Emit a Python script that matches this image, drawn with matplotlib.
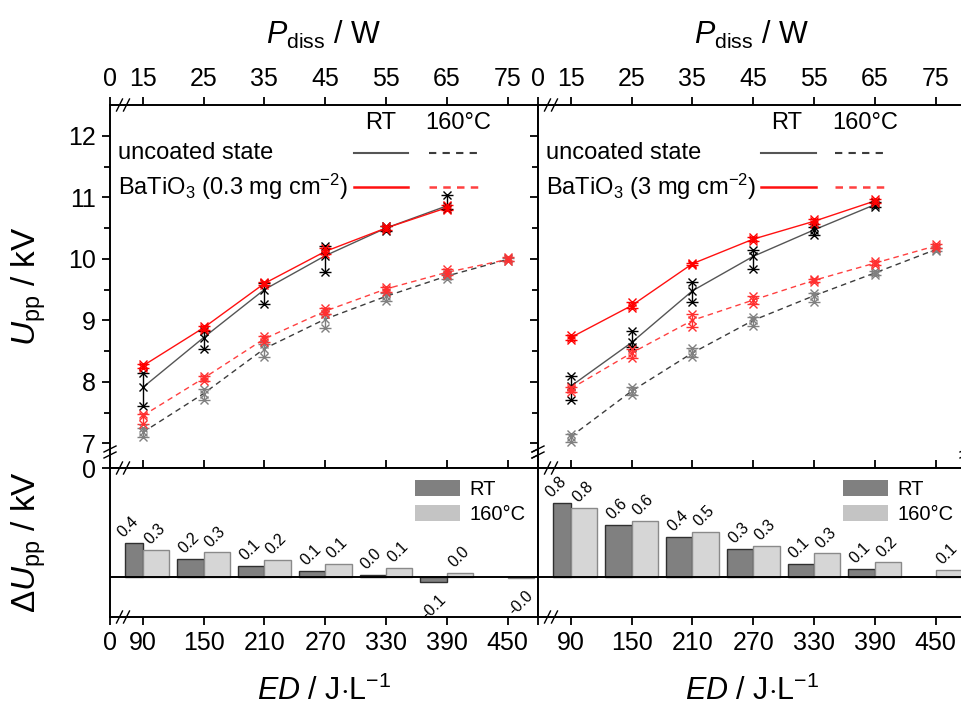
import numpy as np
import matplotlib
matplotlib.use("Agg")
import matplotlib.pyplot as plt
from matplotlib.patches import Patch

plt.rcParams['font.family'] = 'Liberation Sans'
plt.rcParams['mathtext.fontset'] = 'custom'
plt.rcParams['mathtext.rm'] = 'Liberation Sans'
plt.rcParams['mathtext.it'] = 'Liberation Sans:italic'

# x values
P_rt = [15, 25, 35, 45, 55, 65]
P_hot = [15, 25, 35, 45, 55, 65, 75]
ED = [90, 150, 210, 270, 330, 390, 450]

# left: BaTiO3 0.3 mg cm-2  (mean, min, max of the runs)
unc_rt_L = [7.91, 8.72, 9.50, 10.05, 10.50, 10.86]
unc_rt_L_lo = [7.60, 8.54, 9.27, 9.78, 10.46, 10.81]
unc_rt_L_hi = [8.14, 8.83, 9.60, 10.21, 10.53, 11.03]
coat_rt_L = [8.26, 8.88, 9.60, 10.12, 10.50, 10.83]
coat_rt_L_lo = [8.23, 8.85, 9.57, 10.08, 10.47, 10.80]
coat_rt_L_hi = [8.29, 8.91, 9.63, 10.17, 10.54, 10.87]
unc_hot_L = [7.18, 7.81, 8.54, 9.02, 9.39, 9.72, 9.99]
unc_hot_L_lo = [7.10, 7.70, 8.40, 8.88, 9.32, 9.68, 9.97]
unc_hot_L_hi = [7.25, 7.88, 8.62, 9.10, 9.45, 9.76, 10.02]
coat_hot_L = [7.45, 8.06, 8.70, 9.15, 9.51, 9.78, 9.99]
coat_hot_L_lo = [7.32, 8.02, 8.64, 9.10, 9.46, 9.74, 9.97]
coat_hot_L_hi = [7.48, 8.10, 8.74, 9.20, 9.54, 9.83, 10.03]
dU_rt_L = [0.38, 0.20, 0.12, 0.07, 0.02, -0.06, np.nan]
dU_hot_L = [0.30, 0.27, 0.19, 0.14, 0.10, 0.04, -0.01]

# right: BaTiO3 3 mg cm-2
unc_rt_R = [7.93, 8.64, 9.48, 10.04, 10.47, 10.88]
unc_rt_R_lo = [7.71, 8.56, 9.29, 9.84, 10.38, 10.85]
unc_rt_R_hi = [8.10, 8.83, 9.63, 10.15, 10.51, 10.92]
coat_rt_R = [8.72, 9.24, 9.92, 10.32, 10.61, 10.94]
coat_rt_R_lo = [8.68, 9.20, 9.90, 10.29, 10.57, 10.91]
coat_rt_R_hi = [8.76, 9.29, 9.94, 10.35, 10.65, 10.98]
unc_hot_R = [7.11, 7.85, 8.47, 9.00, 9.40, 9.77, 10.15]
unc_hot_R_lo = [7.02, 7.78, 8.40, 8.90, 9.30, 9.74, 10.12]
unc_hot_R_hi = [7.16, 7.92, 8.55, 9.05, 9.45, 9.80, 10.18]
coat_hot_R = [7.89, 8.47, 9.00, 9.33, 9.65, 9.93, 10.21]
coat_hot_R_lo = [7.84, 8.38, 8.89, 9.27, 9.62, 9.90, 10.18]
coat_hot_R_hi = [7.92, 8.54, 9.10, 9.40, 9.68, 9.96, 10.24]
dU_rt_R = [0.82, 0.57, 0.44, 0.31, 0.14, 0.09, np.nan]
dU_hot_R = [0.76, 0.62, 0.50, 0.34, 0.26, 0.16, 0.08]

W, H = 961, 711
fig = plt.figure(figsize=(W / 100, H / 100), dpi=100)


def box(x0, y0, x1, y1):
    return [x0 / W, 1 - y1 / H, (x1 - x0) / W, (y1 - y0) / H]


def slashes(ax, x, y, wpx, hpx, vertical=False):
    # two short "//" marks drawn across a spine, sizes in pixels
    for k in (-1, 1):
        if vertical:
            xs = [x - 6 / wpx, x + 6 / wpx]
            ys = [y + (k * 3 - 3) / hpx, y + (k * 3 + 3) / hpx]
        else:
            xs = [x + (k * 3.5 - 3) / wpx, x + (k * 3.5 + 3) / wpx]
            ys = [y - 6 / hpx, y + 6 / hpx]
        ax.plot(xs, ys, color='k', lw=1, transform=ax.transAxes, clip_on=False, zorder=10)


def series(ax, x, m, lo, hi, lcol, mcol, ls):
    m, lo, hi = np.array(m), np.array(lo), np.array(hi)
    ax.plot(x, m, color=lcol, lw=1, ls=ls, zorder=2)
    ax.errorbar(x, m, yerr=[m - lo, hi - m], fmt='none', ecolor=mcol, elinewidth=1,
                capsize=4, capthick=1, zorder=3)
    for arr in (lo, m, hi):
        ax.plot(x, arr, ls='none', marker='x', ms=6, mew=1, color=mcol, zorder=4)


def panel(x0, data, label, dU_rt, dU_hot, first, key_pos):
    up = fig.add_axes(box(x0, 105, x0 + 428, 468))
    low = fig.add_axes(box(x0, 468, x0 + 428, 617))
    (ur, ur_lo, ur_hi, cr, cr_lo, cr_hi, uh, uh_lo, uh_hi, ch, ch_lo, ch_hi) = data

    dash = (0, (4, 3))
    series(up, P_hot, uh, uh_lo, uh_hi, '#3c3c3c', '#808080', dash)
    series(up, P_rt, ur, ur_lo, ur_hi, '#555555', 'black', '-')
    series(up, P_hot, ch, ch_lo, ch_hi, '#ff4040', '#ff3030', dash)
    series(up, P_rt, cr, cr_lo, cr_hi, '#ff1010', '#ff0000', '-')

    xlo, xhi = 9.6, 80
    up.set_xlim(xlo, xhi)
    up.set_ylim(6.6, 12.5)
    up.xaxis.tick_top()
    up.set_xticks([xlo] + P_hot)
    up.set_xticklabels(['0'] + [str(p) for p in P_hot])
    up.set_yticks([6.6] + list(range(7, 13)))
    up.set_yticks(np.arange(7.5, 12, 1), minor=True)
    if first:
        up.set_yticklabels(['0'] + [str(v) for v in range(7, 13)])
        up.set_ylabel(r'$\mathit{U}_\mathrm{pp}$ / kV', fontsize=24)
        up.yaxis.set_label_coords(-0.145, 0.5)
    else:
        up.set_yticklabels([])
    up.set_xlabel(r'$\mathit{P}_\mathrm{diss}$ / W', fontsize=22, labelpad=17)
    up.xaxis.set_label_position('top')
    up.tick_params(which='both', direction='out', width=1.3, labelsize=18, pad=4)
    up.tick_params(which='major', length=6)
    up.tick_params(which='minor', length=4)

    # key
    kx_rt, kx_hot, ks, kd = key_pos
    up.text(kx_rt, 0.95, 'RT', transform=up.transAxes, ha='center', va='center', fontsize=17)
    up.text(kx_hot, 0.95, '160°C', transform=up.transAxes, ha='center', va='center', fontsize=17)
    up.text(0.018, 0.868, 'uncoated state', transform=up.transAxes, va='center', fontsize=17)
    up.text(0.018, 0.774, label, transform=up.transAxes, va='center', fontsize=17)
    up.plot(ks, [0.868, 0.868], color='#555555', lw=1.5, transform=up.transAxes)
    up.plot(kd, [0.868, 0.868], color='#3c3c3c', lw=1.5, ls=(0, (3.5, 3)), transform=up.transAxes)
    up.plot(ks, [0.774, 0.774], color='#ff1010', lw=1.8, transform=up.transAxes)
    up.plot(kd, [0.774, 0.774], color='#ff4040', lw=1.8, ls=(0, (3, 2.5)), transform=up.transAxes)

    # bars
    rt = np.array(dU_rt)
    hot = np.array(dU_hot)
    wid = [18] + [26] * (len(ED) - 1)
    low.bar(ED, rt, width=[-w for w in wid], align='edge', color='#808080',
            edgecolor='#303030', lw=1, zorder=2)
    low.bar(ED, hot, width=26, align='edge', color='#d6d6d6', edgecolor='#8a8a8a',
            lw=1, zorder=2)
    for xs, vals in ((np.array(ED) - 13, rt), (np.array(ED) + 13, hot)):
        for x, v in zip(xs, vals):
            if np.isnan(v):
                continue
            if v >= 0:
                low.annotate(f'{v:.1f}', (x, v), xytext=(-1, 2), textcoords='offset points',
                             rotation=45, ha='center', va='bottom', fontsize=11.5)
            else:
                low.annotate(f'{v:.1f}', (x, v), xytext=(0, -7), textcoords='offset points',
                             rotation=45, ha='center', va='top', fontsize=11.5)
    low.axhline(0, color='k', lw=1.4, zorder=3)
    low.set_xlim(xlo * 6, xhi * 6)
    low.set_ylim(-0.44, 1.2)
    low.set_yticks([])
    low.set_xticks([xlo * 6] + ED)
    low.set_xticklabels((['0'] if first else ['']) + [str(e) for e in ED])
    low.tick_params(axis='x', top=True, direction='out', width=1.3, length=6,
                    labelsize=18, pad=4)
    low.set_xlabel(r'$\mathit{ED}$ / J$\cdot$L$^{-1}$', fontsize=22, labelpad=15)
    if first:
        low.set_ylabel('Δ' + r'$\mathit{U}_\mathrm{pp}$ / kV', fontsize=24)
        low.yaxis.set_label_coords(-0.145, 0.5)
    low.legend(handles=[Patch(fc='#808080', ec='none', label='RT'),
                        Patch(fc='#c4c4c4', ec='none', label='160°C')],
               loc='upper right', frameon=False, fontsize=14.5, handlelength=2.2,
               handleheight=0.85, handletextpad=0.5, labelspacing=0.3,
               borderaxespad=0.2)

    for ax in (up, low):
        for s in ax.spines.values():
            s.set_linewidth(1.4)

    # axis breaks
    slashes(up, 13 / 428, 1.0, 428, 363)
    slashes(up, 0.0, 16 / 363, 428, 363, vertical=True)
    slashes(up, 1.0, 16 / 363, 428, 363, vertical=True)
    slashes(low, 13 / 428, 1.0, 428, 149)
    slashes(low, 13 / 428, 0.0, 428, 149)


panel(110, (unc_rt_L, unc_rt_L_lo, unc_rt_L_hi, coat_rt_L, coat_rt_L_lo, coat_rt_L_hi,
            unc_hot_L, unc_hot_L_lo, unc_hot_L_hi, coat_hot_L, coat_hot_L_lo, coat_hot_L_hi),
      r'BaTiO$_3$ (0.3 mg cm$^{-2}$)', dU_rt_L, dU_hot_L, True,
      (0.633, 0.813, [0.570, 0.696], [0.745, 0.867]))
panel(538, (unc_rt_R, unc_rt_R_lo, unc_rt_R_hi, coat_rt_R, coat_rt_R_lo, coat_rt_R_hi,
            unc_hot_R, unc_hot_R_lo, unc_hot_R_hi, coat_hot_R, coat_hot_R_lo, coat_hot_R_hi),
      r'BaTiO$_3$ (3 mg cm$^{-2}$)', dU_rt_R, dU_hot_R, False,
      (0.582, 0.764, [0.521, 0.650], [0.694, 0.818]))

fig.savefig('out.png', dpi=100)
